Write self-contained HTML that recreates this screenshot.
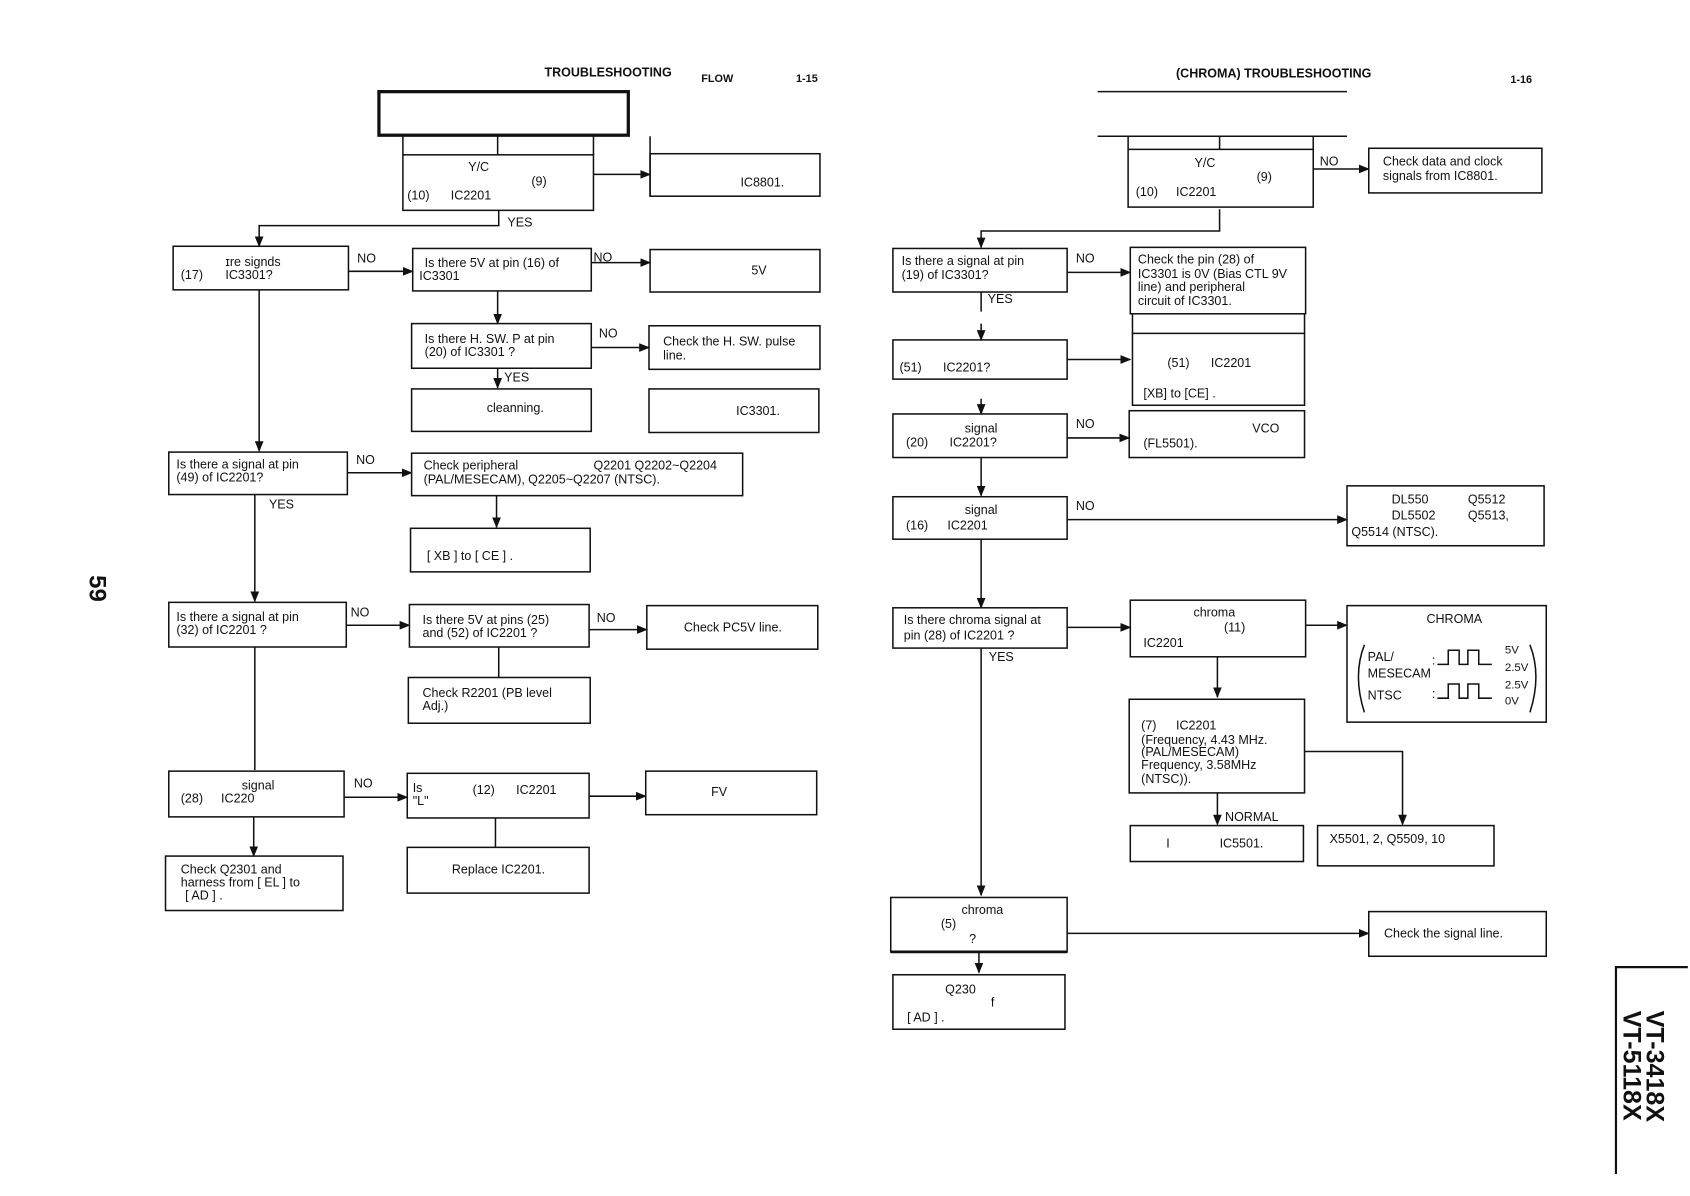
<!DOCTYPE html>
<html><head><meta charset="utf-8"><style>
html,body{margin:0;padding:0;background:#fff;}
svg{display:block}
text{font-family:"Liberation Sans",sans-serif;font-size:11.5px;fill:#111}
.b{font-weight:bold}
</style></head><body>
<svg width="1690" height="1196" viewBox="0 0 1552 1098" xmlns="http://www.w3.org/2000/svg">
<defs><marker id="a" markerWidth="10" markerHeight="8" refX="9" refY="4" orient="auto" markerUnits="userSpaceOnUse"><path d="M0,0 L10,4 L0,8 z" fill="#111"/></marker></defs>
<g fill="none" stroke="#111" stroke-width="1.4">
<!-- left page -->
<rect x="348" y="84" width="229" height="40" stroke-width="3"/>
<line x1="370" y1="124" x2="370" y2="142"/><line x1="545" y1="124" x2="545" y2="142"/><line x1="457" y1="124" x2="457" y2="142"/>
<rect x="370" y="142" width="175" height="51"/>
<line x1="545" y1="160" x2="597" y2="160" marker-end="url(#a)"/>
<line x1="597" y1="125" x2="597" y2="180"/>
<rect x="597" y="141" width="156" height="39"/>
<polyline points="458,193 458,207 238,207 238,226" marker-end="url(#a)"/>
<rect x="159" y="226" width="161" height="40"/>
<line x1="320" y1="249" x2="379" y2="249" marker-end="url(#a)"/>
<rect x="379" y="228" width="164" height="39"/>
<line x1="543" y1="241" x2="597" y2="241" marker-end="url(#a)"/>
<rect x="597" y="229" width="156" height="39"/>
<line x1="457" y1="267" x2="457" y2="297" marker-end="url(#a)"/>
<rect x="378" y="297" width="165" height="41"/>
<line x1="543" y1="319" x2="596" y2="319" marker-end="url(#a)"/>
<rect x="596" y="299" width="157" height="40"/>
<line x1="457" y1="338" x2="457" y2="356" marker-end="url(#a)"/>
<rect x="378" y="357" width="165" height="39"/>
<rect x="596" y="357" width="156" height="40"/>
<line x1="238" y1="266" x2="238" y2="414" marker-end="url(#a)"/>
<rect x="155" y="415" width="164" height="39"/>
<line x1="319" y1="434" x2="378" y2="434" marker-end="url(#a)"/>
<rect x="378" y="416" width="304" height="39"/>
<line x1="234" y1="454" x2="234" y2="552" marker-end="url(#a)"/>
<line x1="456" y1="455" x2="456" y2="484" marker-end="url(#a)"/>
<rect x="377" y="485" width="165" height="40"/>
<rect x="155" y="553" width="163" height="41"/>
<line x1="318" y1="574" x2="376" y2="574" marker-end="url(#a)"/>
<rect x="376" y="555" width="165" height="39"/>
<line x1="541" y1="578" x2="594" y2="578" marker-end="url(#a)"/>
<rect x="594" y="556" width="157" height="40"/>
<line x1="458" y1="594" x2="458" y2="622"/>
<rect x="375" y="622" width="167" height="42"/>
<line x1="234" y1="594" x2="234" y2="707"/>
<rect x="155" y="708" width="161" height="42"/>
<line x1="316" y1="732" x2="374" y2="732" marker-end="url(#a)"/>
<rect x="374" y="710" width="167" height="41"/>
<line x1="541" y1="731" x2="593" y2="731" marker-end="url(#a)"/>
<rect x="593" y="708" width="157" height="40"/>
<line x1="233" y1="750" x2="233" y2="786" marker-end="url(#a)"/>
<rect x="152" y="786" width="163" height="50"/>
<line x1="455" y1="751" x2="455" y2="778"/>
<rect x="374" y="778" width="167" height="42"/>
<!-- right page -->
<line x1="1008" y1="84" x2="1237" y2="84"/>
<line x1="1008" y1="125" x2="1237" y2="125"/>
<line x1="1036" y1="125" x2="1036" y2="137"/><line x1="1120" y1="125" x2="1120" y2="137"/><line x1="1206" y1="125" x2="1206" y2="137"/>
<rect x="1036" y="137" width="170" height="53"/>
<line x1="1206" y1="155" x2="1257" y2="155" marker-end="url(#a)"/>
<rect x="1257" y="136" width="159" height="41"/>
<polyline points="1120,192 1120,212 901,212 901,227" marker-end="url(#a)"/>
<rect x="820" y="228" width="160" height="40"/>
<line x1="980" y1="250" x2="1038" y2="250" marker-end="url(#a)"/>
<rect x="1038" y="227" width="161" height="61"/>
<line x1="1040" y1="288" x2="1040" y2="306"/><line x1="1198" y1="288" x2="1198" y2="306"/>
<rect x="1040" y="306" width="158" height="66"/>
<line x1="901" y1="268" x2="901" y2="286"/>
<line x1="901" y1="297" x2="901" y2="312" marker-end="url(#a)"/>
<rect x="820" y="312" width="160" height="36"/>
<line x1="980" y1="330" x2="1038" y2="330" marker-end="url(#a)"/>
<line x1="901" y1="366" x2="901" y2="380" marker-end="url(#a)"/>
<rect x="820" y="380" width="160" height="40"/>
<line x1="980" y1="402" x2="1037" y2="402" marker-end="url(#a)"/>
<rect x="1037" y="377" width="161" height="43"/>
<line x1="901" y1="420" x2="901" y2="455" marker-end="url(#a)"/>
<rect x="820" y="456" width="160" height="39"/>
<line x1="980" y1="477" x2="1237" y2="477" marker-end="url(#a)"/>
<rect x="1237" y="446" width="181" height="55"/>
<line x1="901" y1="495" x2="901" y2="558" marker-end="url(#a)"/>
<rect x="820" y="558" width="160" height="37"/>
<line x1="980" y1="576" x2="1038" y2="576" marker-end="url(#a)"/>
<rect x="1038" y="551" width="161" height="52"/>
<line x1="1199" y1="574" x2="1237" y2="574" marker-end="url(#a)"/>
<rect x="1237" y="556" width="183" height="107"/>
<path d="M1253,592 Q1242,620 1253,654"/><path d="M1405,592 Q1416,620 1405,654"/>
<polyline points="1320,610 1330,610 1330,597 1340,597 1340,610 1348,610 1348,597 1358,597 1358,610 1370,610"/>
<polyline points="1320,641 1330,641 1330,628 1340,628 1340,641 1348,641 1348,628 1358,628 1358,641 1370,641"/>
<line x1="1118" y1="603" x2="1118" y2="640" marker-end="url(#a)"/>
<rect x="1037" y="642" width="161" height="86"/>
<polyline points="1198,690 1288,690 1288,757" marker-end="url(#a)"/>
<rect x="1210" y="758" width="162" height="37"/>
<line x1="1118" y1="728" x2="1118" y2="757" marker-end="url(#a)"/>
<rect x="1038" y="758" width="159" height="33"/>
<line x1="901" y1="595" x2="901" y2="822" marker-end="url(#a)"/>
<rect x="818" y="824" width="162" height="50"/>
<line x1="818" y1="874" x2="980" y2="874" stroke-width="2.5"/>
<line x1="980" y1="857" x2="1257" y2="857" marker-end="url(#a)"/>
<rect x="1257" y="837" width="163" height="41"/>
<line x1="899" y1="874" x2="899" y2="893" marker-end="url(#a)"/>
<rect x="820" y="895" width="158" height="50"/>
<polyline points="1550,888 1484,888 1484,1078" stroke-width="2"/>
</g>
<!-- left texts -->
<text x="500" y="70" class="b">TROUBLESHOOTING</text>
<text x="644" y="75" class="b" style="font-size:10px">FLOW</text>
<text x="731" y="75" class="b" style="font-size:10px">1-15</text>
<text x="430" y="157">Y/C</text><text x="488" y="170">(9)</text>
<text x="374" y="183">(10)</text><text x="414" y="183">IC2201</text>
<text x="680" y="171">IC8801.</text>
<text x="466" y="208">YES</text>
<text x="207" y="244">ɪre signds</text><text x="166" y="256">(17)</text><text x="207" y="256">IC3301?</text>
<text x="328" y="241">NO</text>
<text x="390" y="245">Is there 5V at pin (16) of</text><text x="385" y="257">IC3301</text>
<text x="545" y="240">NO</text>
<text x="690" y="252">5V</text>
<text x="390" y="315">Is there H. SW. P at pin</text><text x="390" y="327">(20) of IC3301 ?</text>
<text x="550" y="310">NO</text>
<text x="609" y="317">Check the H. SW. pulse</text><text x="609" y="330">line.</text>
<text x="463" y="350">YES</text>
<text x="447" y="378">cleanning.</text>
<text x="676" y="381">IC3301.</text>
<text x="162" y="430">Is there a signal at pin</text><text x="162" y="442">(49) of IC2201?</text>
<text x="327" y="426">NO</text>
<text x="389" y="431">Check peripheral</text><text x="545" y="431">Q2201 Q2202~Q2204</text>
<text x="389" y="444">(PAL/MESECAM),</text><text x="485" y="444">Q2205~Q2207 (NTSC).</text>
<text x="247" y="467">YES</text>
<text x="392" y="514">[ XB ]  to [ CE ] .</text>
<text x="162" y="570">Is there a signal at pin</text><text x="162" y="582">(32) of IC2201 ?</text>
<text x="322" y="566">NO</text>
<text x="388" y="573">Is there 5V at pins (25)</text><text x="388" y="585">and (52) of IC2201 ?</text>
<text x="548" y="571">NO</text>
<text x="628" y="580">Check PC5V line.</text>
<text x="388" y="640">Check R2201 (PB level</text><text x="388" y="652">Adj.)</text>
<text x="222" y="725">signal</text><text x="166" y="737">(28)</text><text x="203" y="737">IC220</text>
<text x="325" y="723">NO</text>
<text x="379" y="727">Is</text><text x="379" y="739">"L"</text><text x="434" y="729">(12)</text><text x="474" y="729">IC2201</text>
<text x="653" y="731">FV</text>
<text x="166" y="802">Check Q2301 and</text><text x="166" y="814">harness from [ EL ] to</text><text x="170" y="826">[ AD ] .</text>
<text x="415" y="802">Replace IC2201.</text>
<text x="0" y="0" class="b" style="font-size:22px" transform="translate(82,528) rotate(90)">59</text>
<!-- right texts -->
<text x="1080" y="71" class="b">(CHROMA) TROUBLESHOOTING</text>
<text x="1387" y="76" class="b" style="font-size:10px">1-16</text>
<text x="1097" y="153">Y/C</text><text x="1154" y="166">(9)</text>
<text x="1043" y="180">(10)</text><text x="1080" y="180">IC2201</text>
<text x="1212" y="152">NO</text>
<text x="1270" y="152">Check data and clock</text><text x="1270" y="165">signals from IC8801.</text>
<text x="828" y="243">Is there a signal at pin</text><text x="828" y="256">(19) of IC3301?</text>
<text x="988" y="241">NO</text><text x="907" y="278">YES</text>
<text x="1045" y="242">Check the pin (28) of</text><text x="1045" y="255">IC3301 is 0V (Bias CTL 9V</text>
<text x="1045" y="267">line) and peripheral</text><text x="1045" y="280">circuit of IC3301.</text>
<text x="1072" y="337">(51)</text><text x="1112" y="337">IC2201</text>
<text x="1050" y="365">[XB] to [CE] .</text>
<text x="826" y="341">(51)</text><text x="866" y="341">IC2201?</text>
<text x="886" y="397">signal</text><text x="832" y="410">(20)</text><text x="872" y="410">IC2201?</text>
<text x="988" y="393">NO</text>
<text x="1150" y="397">VCO</text><text x="1050" y="411">(FL5501).</text>
<text x="886" y="472">signal</text><text x="832" y="486">(16)</text><text x="870" y="486">IC2201</text>
<text x="988" y="468">NO</text>
<text x="1278" y="462">DL550</text><text x="1348" y="462">Q5512</text>
<text x="1278" y="477">DL5502</text><text x="1348" y="477">Q5513,</text>
<text x="1241" y="492">Q5514 (NTSC).</text>
<text x="830" y="573">Is there chroma signal at</text><text x="830" y="587">pin (28) of IC2201 ?</text>
<text x="908" y="607">YES</text>
<text x="1096" y="566">chroma</text><text x="1124" y="580">(11)</text><text x="1050" y="594">IC2201</text>
<text x="1310" y="572">CHROMA</text>
<text x="1256" y="607">PAL/</text><text x="1256" y="622">MESECAM</text><text x="1256" y="642">NTSC</text>
<text x="1315" y="610">:</text><text x="1315" y="641">:</text>
<text x="1382" y="600" style="font-size:10.5px">5V</text><text x="1382" y="616" style="font-size:10.5px">2.5V</text>
<text x="1382" y="632" style="font-size:10.5px">2.5V</text><text x="1382" y="647" style="font-size:10.5px">0V</text>
<text x="1048" y="670">(7)</text><text x="1080" y="670">IC2201</text>
<text x="1048" y="683">(Frequency, 4.43 MHz.</text><text x="1048" y="694">(PAL/MESECAM)</text>
<text x="1048" y="706">Frequency, 3.58MHz</text><text x="1048" y="719">(NTSC)).</text>
<text x="1221" y="774">X5501, 2, Q5509, 10</text>
<text x="1125" y="754">NORMAL</text>
<text x="1071" y="778">I</text><text x="1120" y="778">IC5501.</text>
<text x="883" y="839">chroma</text><text x="864" y="852">(5)</text><text x="890" y="866">?</text>
<text x="1271" y="861">Check the signal line.</text>
<text x="868" y="912">Q230</text><text x="910" y="924">f</text><text x="833" y="938">[ AD ] .</text>
<text x="0" y="0" class="b" style="font-size:23px" transform="translate(1512,928) rotate(90)">VT-3418X</text>
<text x="0" y="0" class="b" style="font-size:23px" transform="translate(1491,928) rotate(90)">VT-5118X</text>
</svg>
</body></html>
